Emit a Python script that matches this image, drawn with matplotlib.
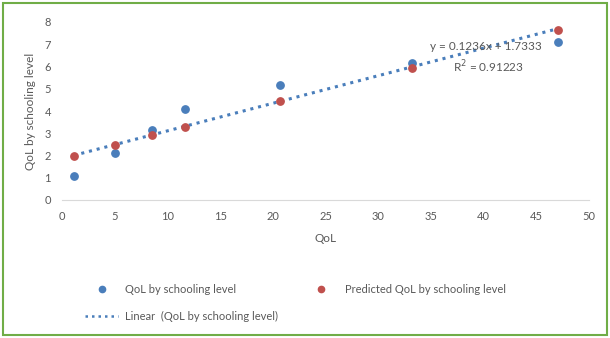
import numpy as np
import matplotlib
matplotlib.use("Agg")
import matplotlib.pyplot as plt
from matplotlib.lines import Line2D
from matplotlib.patches import Rectangle

plt.rcParams['font.family'] = ['Lato', 'DejaVu Sans']

# values
qol = [1.1, 5.0, 8.5, 11.7, 20.7, 33.2, 47.1]
qol_school = [1.1, 2.1, 3.15, 4.1, 5.15, 6.15, 7.1]
qol_pred = [2.0, 2.45, 2.9, 3.3, 4.45, 5.95, 7.65]
xticks = [0, 5, 10, 15, 20, 25, 30, 35, 40, 45, 50]
yticks = [0, 1, 2, 3, 4, 5, 6, 7, 8]

blue = '#4a7ebb'
red = '#c0504d'
grey = '#595959'

fig = plt.figure(figsize=(6.10, 3.38), dpi=100)
ax = fig.add_axes([62/610, 1 - 200/338, 527/610, 178/338])

ax.scatter(qol, qol_school, s=28, color=blue, zorder=3)
ax.scatter(qol, qol_pred, s=28, color=red, zorder=3)

# linear trend of the blue series
k, b = np.polyfit(qol, qol_school, 1)
xs = np.array([qol[0], qol[-1]])
ax.plot(xs, k*xs + b, color=blue, ls=(0, (1, 1.6)), lw=2.2, zorder=2)

ax.text(40.2, 6.9, 'y = 0.1236x + 1.7333', fontsize=8.5, color=grey,
        ha='center', va='center')
ax.text(40.5, 6.0, 'R$^2$ = 0.91223', fontsize=8.5, color=grey,
        ha='center', va='center')

ax.set_xlim(0, 50)
ax.set_ylim(0, 8)
ax.set_xticks(xticks)
ax.set_yticks(yticks)
for s in ['top', 'right', 'left']:
    ax.spines[s].set_visible(False)
ax.spines['bottom'].set_color('#d9d9d9')
ax.tick_params(length=0, labelsize=8, colors=grey, pad=8)
ax.set_xlabel('QoL', fontsize=8.5, color=grey, labelpad=8)
ax.set_ylabel('QoL by schooling level', fontsize=8.5, color=grey, labelpad=6)

handles = [
    Line2D([], [], ls='none', marker='o', ms=4.5, color=blue),
    Line2D([], [], ls=(0, (1, 1.6)), lw=1.8, color=blue),
    Line2D([], [], ls='none', marker='o', ms=4.5, color=red),
]
labels = ['QoL by schooling level', 'Linear  (QoL by schooling level)',
          'Predicted QoL by schooling level']
leg = fig.legend(handles, labels, ncol=2, loc='upper left',
                 bbox_to_anchor=(75/610, 1 - 274/338), frameon=False,
                 fontsize=8, handlelength=3.0, columnspacing=2.4,
                 labelspacing=1.45, handletextpad=0.6)
for t in leg.get_texts():
    t.set_color(grey)

fig.patches.append(Rectangle((3/610, 3/338), 604/610, 332/338, fill=False,
                             edgecolor='#70ad47', lw=1.5,
                             transform=fig.transFigure))

fig.savefig('out.png', dpi=100)
